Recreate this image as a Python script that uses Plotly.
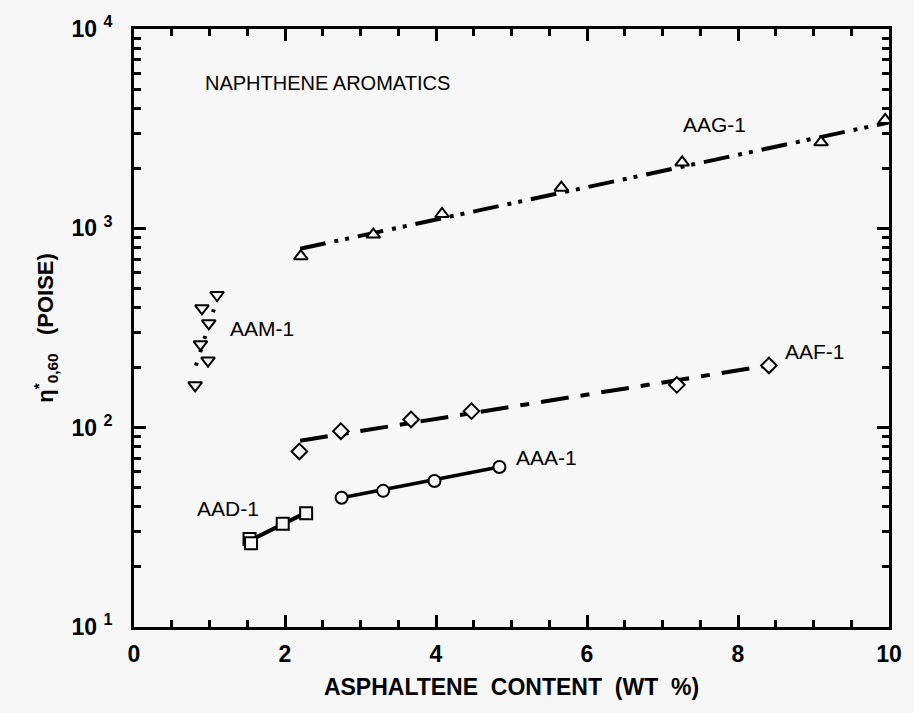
import plotly.graph_objects as go

# ---------------- data ----------------
aag_x = [2.21, 3.17, 4.08, 5.66, 7.26, 9.10, 9.95]
aag_y = [725, 930, 1180, 1600, 2140, 2700, 3500]
aag_fit_x = [2.2, 10.0]
aag_fit_y = [790, 3400]

aaf_x = [2.19, 2.74, 3.67, 4.47, 7.19, 8.41]
aaf_y = [76, 96, 110, 121, 164, 205]
aaf_fit_x = [2.2, 8.4]
aaf_fit_y = [86, 205]

aaa_x = [2.75, 3.30, 3.98, 4.84]
aaa_y = [44.5, 48.2, 54.0, 63.5]
aaa_fit_x = [2.75, 4.84]
aaa_fit_y = [44.5, 63.5]

aad_x = [1.53, 1.55, 1.97, 2.28]
aad_y = [27.6, 26.3, 33.0, 37.2]
aad_fit_x = [1.55, 2.30]
aad_fit_y = [27.3, 37.8]

aam_x = [1.10, 0.90, 0.99, 0.88, 0.98, 0.81]
aam_y = [463, 397, 334, 262, 217, 163]
aam_fit_x = [0.82, 1.10]
aam_fit_y = [205, 440]

x_ticks = [0, 2, 4, 6, 8, 10]
y_ticks = [10, 100, 1000, 10000]
y_ticktext = ["10 <sup>1</sup>", "10 <sup>2</sup>", "10 <sup>3</sup>", "10 <sup>4</sup>"]

# label text, x, log10(y)
labels = [("AAG-1", 7.69, 3.52), ("AAF-1", 9.02, 2.382), ("AAA-1", 5.47, 1.848),
          ("AAD-1", 1.25, 1.594), ("AAM-1", 1.70, 2.497)]

BG = "#f7f7f7"
INK = "#000000"
FONT = "Liberation Sans, Arial, sans-serif"

fig = go.Figure()

def fit(x, y, dash, width=3.5):
    fig.add_trace(go.Scatter(x=x, y=y, mode="lines", showlegend=False,
                             line=dict(color=INK, width=width, dash=dash),
                             hoverinfo="skip"))

def pts(x, y, symbol, size):
    fig.add_trace(go.Scatter(x=x, y=y, mode="markers", showlegend=False,
                             marker=dict(symbol=symbol, size=size, color=BG,
                                         line=dict(color=INK, width=2))))

fit(aag_fit_x, aag_fit_y, "26px,9px,4px,7px,4px,9px", 4)
fit(aaf_fit_x, aaf_fit_y, "28px,12px,9px,12px", 4)
fit(aaa_fit_x, aaa_fit_y, "solid", 3.5)
fit(aad_fit_x, aad_fit_y, "solid", 4)
fit(aam_fit_x, aam_fit_y, "3px,11px", 4)

pts(aag_x, aag_y, "triangle-up", 12)
pts(aaf_x, aaf_y, "diamond", 12)
pts(aaa_x, aaa_y, "circle", 12)
pts(aad_x, aad_y, "square", 12)
pts(aam_x, aam_y, "triangle-down", 12)

for txt, lx, ly in labels:
    fig.add_annotation(x=lx, y=ly, text=txt, showarrow=False,
                       font=dict(family=FONT, size=21, color=INK))

fig.add_annotation(x=0.092, y=0.91, xref="paper", yref="paper",
                   xanchor="left", yanchor="middle",
                   text="NAPHTHENE AROMATICS", showarrow=False,
                   font=dict(family=FONT, size=20, color=INK))

minor_y = [m * 10 ** e for e in range(1, 4) for m in range(2, 10)]

fig.update_xaxes(range=[0, 10], tickvals=x_ticks,
                 ticktext=[f"<b>{v}</b>" for v in x_ticks],
                 ticks="inside", ticklen=12, ticklabelstandoff=4,
                 tickwidth=2.5, tickcolor=INK, showline=True, linewidth=3,
                 linecolor=INK, mirror="allticks", showgrid=False, zeroline=False,
                 minor=dict(dtick=0.5, ticks="inside", ticklen=7, tickwidth=2.5,
                            tickcolor=INK, showgrid=False),
                 tickfont=dict(family=FONT, size=23, color=INK),
                 title=dict(text="<b>ASPHALTENE  CONTENT  (WT  %)</b>",
                            font=dict(family=FONT, size=23, color=INK), standoff=14))

fig.update_yaxes(type="log", range=[1, 4], tickvals=y_ticks,
                 ticktext=[f"<b>{t}</b>" for t in y_ticktext],
                 ticks="inside", ticklen=12, tickwidth=2.5, tickcolor=INK,
                 ticklabelstandoff=14,
                 showline=True, linewidth=3, linecolor=INK, mirror="allticks",
                 showgrid=False, zeroline=False,
                 minor=dict(tickvals=minor_y, ticks="inside", ticklen=7,
                            tickwidth=2.5, tickcolor=INK, showgrid=False),
                 tickfont=dict(family=FONT, size=23, color=INK),
                 title=dict(text="<b>η<sup>*</sup><sub>0,60</sub>   (POISE)</b>",
                            font=dict(family=FONT, size=22, color=INK), standoff=12))

fig.update_layout(width=914, height=713, paper_bgcolor=BG, plot_bgcolor=BG,
                  margin=dict(l=134, r=14, t=26, b=86),
                  font=dict(family=FONT, color=INK))

fig.write_html("out.html")
